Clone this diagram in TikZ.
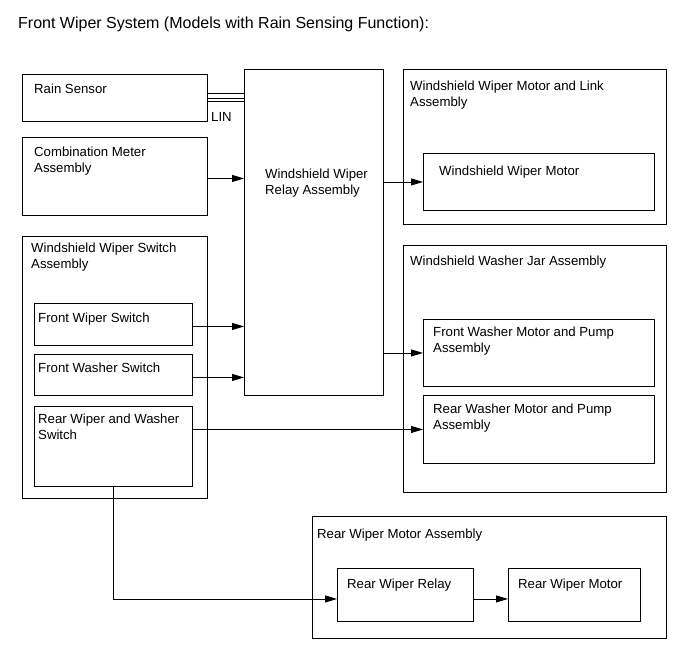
\documentclass[tikz,border=0pt]{standalone}
\usepackage{fontspec}
\setmainfont{Liberation Sans}
\usetikzlibrary{arrows.meta}
\begin{document}
\begin{tikzpicture}[x=1pt,y=-1pt,
  box/.style={draw,line width=0.9pt,rectangle,inner sep=0,anchor=north west},
  txt/.style={anchor=north west,inner sep=0,align=left,yshift=-1.5pt,font=\fontsize{13.2}{16.2}\selectfont},
  arr/.style={line width=0.9pt,-{Triangle[length=12pt,width=7pt]}},
  wire/.style={line width=0.9pt}]
\useasboundingbox (0,0) rectangle (689,659);
\node[anchor=north west,inner sep=0,font=\fontsize{16}{19}\selectfont] (title) at (18,16.5) {Front Wiper System (Models with Rain Sensing Function):};
% left column
\node[box,minimum width=185,minimum height=47] (rs) at (22,74) {};
\node[txt] (rst) at (34,82) {Rain Sensor};
\node[box,minimum width=185,minimum height=78] (cm) at (22,137) {};
\node[txt] (cmt) at (34,145) {Combination Meter\\Assembly};
\node[box,minimum width=185,minimum height=262] (wsa) at (22,236) {};
\node[txt] (wsat) at (31,241) {Windshield Wiper Switch\\Assembly};
\node[box,minimum width=158,minimum height=42] (fws) at (34,303) {};
\node[txt] (fwst) at (38,311) {Front Wiper Switch};
\node[box,minimum width=158,minimum height=41] (fwa) at (34,354) {};
\node[txt] (fwat) at (38,361) {Front Washer Switch};
\node[box,minimum width=158,minimum height=80] (rws) at (34,406) {};
\node[txt] (rwst) at (38,412) {Rear Wiper and Washer\\Switch};
% relay
\node[box,minimum width=139,minimum height=326] (relay) at (244,69) {};
\node[txt] (relayt) at (265,167) {Windshield Wiper\\Relay Assembly};
% right column
\node[box,minimum width=263,minimum height=155] (wml) at (403,69) {};
\node[txt] (wmlt) at (410,79) {Windshield Wiper Motor and Link\\Assembly};
\node[box,minimum width=231,minimum height=57] (wm) at (423,153) {};
\node[txt] (wmt) at (439,164) {Windshield Wiper Motor};
\node[box,minimum width=263,minimum height=247] (wj) at (403,245) {};
\node[txt] (wjt) at (410,254) {Windshield Washer Jar Assembly};
\node[box,minimum width=231,minimum height=67] (fwp) at (423,319) {};
\node[txt] (fwpt) at (433,325) {Front Washer Motor and Pump\\Assembly};
\node[box,minimum width=231,minimum height=68] (rwp) at (423,395) {};
\node[txt] (rwpt) at (433,402) {Rear Washer Motor and Pump\\Assembly};
% rear wiper motor assembly
\node[box,minimum width=354,minimum height=122] (rma) at (312,516) {};
\node[txt] (rmat) at (317,527) {Rear Wiper Motor Assembly};
\node[box,minimum width=136,minimum height=53] (rr) at (337,568) {};
\node[txt] (rrt) at (347,577) {Rear Wiper Relay};
\node[box,minimum width=132,minimum height=53] (rm) at (508,568) {};
\node[txt] (rmt) at (518,577) {Rear Wiper Motor};
% LIN bus
\draw[wire] ([yshift=-19]rs.north east) -- ([yshift=-19]rs.north east -| relay.west);
\draw[wire] ([yshift=-24.5]rs.north east) -- ([yshift=-24.5]rs.north east -| relay.west);
\draw[wire] ([yshift=-27.5]rs.north east) -- ([yshift=-27.5]rs.north east -| relay.west);
\node[anchor=north west,inner sep=0,font=\fontsize{13.2}{15}\selectfont] (lin) at (211,112) {LIN};
% connectors
\draw[arr] ([yshift=-2]cm.east) -- ([yshift=-2]cm.east -| relay.west);
\draw[arr] ([yshift=-2]fws.east) -- ([yshift=-2]fws.east -| relay.west);
\draw[arr] ([yshift=-2.5]fwa.east) -- ([yshift=-2.5]fwa.east -| relay.west);
\draw[arr] (relay.east |- wm.west) -- (wm.west);
\draw[arr] (relay.east |- fwp.west) -- (fwp.west);
\draw[arr] (rws.east |- rwp.west) -- (rwp.west);
\coordinate (rrin) at ([yshift=-4]rr.west);
\draw[arr] (rws.south) |- (rrin);
\draw[arr] (rr.east |- rrin) -- (rm.west |- rrin);
\end{tikzpicture}
\end{document}
